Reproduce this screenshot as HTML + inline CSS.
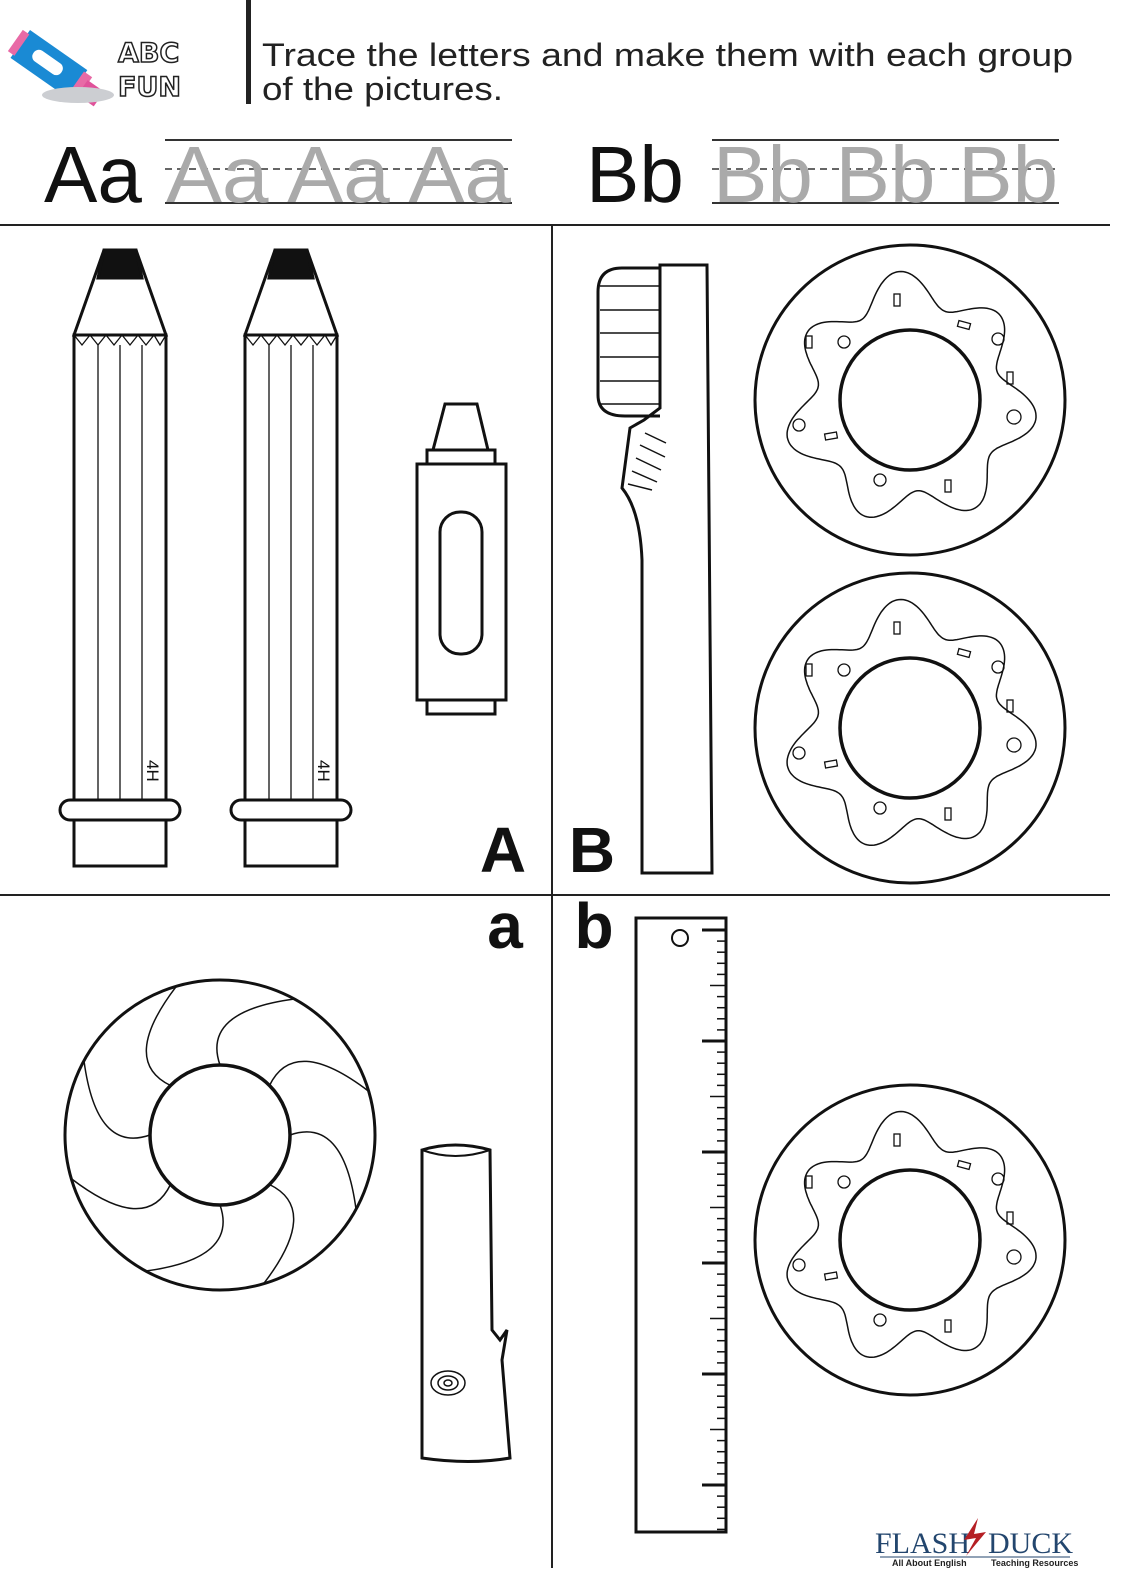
<!DOCTYPE html>
<html><head><meta charset="utf-8"><style>
html,body{margin:0;padding:0;background:#fff}
svg{display:block}
</style></head><body>
<svg id="s" width="1122" height="1584" viewBox="0 0 1122 1584" xmlns="http://www.w3.org/2000/svg" font-family="Liberation Sans, sans-serif">
<defs>
<g id="donut" fill="none" stroke="#111">
  <circle r="155" stroke-width="3"/>
  <circle r="70" stroke-width="3.5"/>
  <path id="frost" stroke-width="1.5" d=""/>
  <g stroke-width="1.3">
    <rect x="-16" y="-106" width="6" height="12"/>
    <rect x="48" y="-78" width="12" height="6" transform="rotate(15 54 -75)"/>
    <circle cx="88" cy="-61" r="6"/>
    <rect x="97" y="-28" width="6" height="12"/>
    <circle cx="104" cy="17" r="7"/>
    <rect x="35" y="80" width="6" height="12"/>
    <circle cx="-30" cy="80" r="6"/>
    <rect x="-85" y="33" width="12" height="6" transform="rotate(-10 -79 36)"/>
    <circle cx="-111" cy="25" r="6"/>
    <rect x="-104" y="-64" width="6" height="12"/>
    <circle cx="-66" cy="-58" r="6"/>
  </g>
</g>
</defs>

<!-- header -->
<g transform="translate(30,30) rotate(35)">
  <rect x="0" y="0" width="70" height="34" fill="#1a8ad4"/>
  <rect x="-6" y="4" width="8" height="26" fill="#e86aa6"/>
  <rect x="68" y="3" width="10" height="28" fill="#e86aa6"/>
  <rect x="76" y="8" width="20" height="18" fill="#e0529a"/>
  <rect x="16" y="10" width="34" height="13" rx="6" fill="#fff"/>
</g>
<ellipse cx="78" cy="95" rx="36" ry="8" fill="#ccced2"/>
<text x="118" y="62" font-size="27" font-weight="bold" fill="#fff" stroke="#222" stroke-width="1.5" font-family="DejaVu Sans, sans-serif">ABC</text>
<text x="118" y="96" font-size="27" font-weight="bold" fill="#fff" stroke="#222" stroke-width="1.5" font-family="DejaVu Sans, sans-serif">FUN</text>
<rect x="246" y="0" width="5" height="104" fill="#222"/>
<text x="262" y="66" font-size="32" fill="#222" textLength="811" lengthAdjust="spacingAndGlyphs">Trace the letters and make them with each group</text>
<text x="262" y="100" font-size="32" fill="#222" textLength="241" lengthAdjust="spacingAndGlyphs">of the pictures.</text>

<!-- trace lines -->
<g stroke="#333" stroke-width="2">
  <line x1="165" y1="140" x2="512" y2="140"/>
  <line x1="165" y1="203" x2="512" y2="203"/>
  <line x1="165" y1="169" x2="512" y2="169" stroke-dasharray="7,5" stroke-width="1.5"/>
  <line x1="712" y1="140" x2="1059" y2="140"/>
  <line x1="712" y1="203" x2="1059" y2="203"/>
  <line x1="712" y1="169" x2="1059" y2="169" stroke-dasharray="7,5" stroke-width="1.5"/>
</g>
<text x="44" y="202" font-size="80" fill="#111">Aa</text>
<text x="166" y="202" font-size="80" fill="#aaa" textLength="345" lengthAdjust="spacingAndGlyphs">Aa Aa Aa</text>
<text x="586" y="202" font-size="80" fill="#111">Bb</text>
<text x="713" y="202" font-size="80" fill="#aaa" textLength="345" lengthAdjust="spacingAndGlyphs">Bb Bb Bb</text>

<!-- grid -->
<g stroke="#222" stroke-width="2">
  <line x1="0" y1="225" x2="1110" y2="225"/>
  <line x1="0" y1="895" x2="1110" y2="895"/>
  <line x1="552" y1="225" x2="552" y2="1568"/>
</g>

<!-- pencils -->
<g id="pencil" fill="none" stroke="#111" stroke-width="3">
  <path d="M74 335 L104 250 L136 250 L166 335 Z" fill="#fff"/>
  <path d="M104 250 L136 250 L142 278 L98 278 Z" fill="#111"/>
  <rect x="74" y="335" width="92" height="465"/>
  <path d="M74 335 L82 345 L90 335 L98 345 L106 335 L114 345 L122 335 L130 345 L138 335 L146 345 L154 335 L160 345 L166 335" stroke-width="1.3"/>
  <g stroke-width="1.3"><line x1="98" y1="345" x2="98" y2="800"/><line x1="120" y1="345" x2="120" y2="800"/><line x1="142" y1="345" x2="142" y2="800"/></g>
  <text x="0" y="0" font-size="17" fill="#111" stroke="none" transform="translate(147,760) rotate(90)">4H</text>
  <rect x="60" y="800" width="120" height="20" rx="10" fill="#fff"/>
  <rect x="74" y="820" width="92" height="46"/>
</g>
<use href="#pencil" x="171"/>

<!-- crayon -->
<g fill="none" stroke="#111" stroke-width="3">
  <path d="M445 404 L477 404 L488 450 L433 450 Z"/>
  <rect x="427" y="450" width="68" height="14"/>
  <rect x="417" y="464" width="89" height="236"/>
  <rect x="440" y="512" width="42" height="142" rx="20"/>
  <rect x="427" y="700" width="68" height="14"/>
</g>

<!-- toothbrush -->
<g fill="none" stroke="#111" stroke-width="3">
  <path d="M660 265 L707 265 L712 873 L642 873 L642 560 Q640 510 622 488 L630 428 L644 420 L660 408 Z"/>
  <path d="M660 268 L622 268 Q598 268 598 292 L598 395 Q598 416 625 416 L660 416"/>
  <g stroke-width="1.5">
    <line x1="600" y1="286" x2="660" y2="286"/><line x1="600" y1="310" x2="660" y2="310"/>
    <line x1="600" y1="333" x2="660" y2="333"/><line x1="600" y1="357" x2="660" y2="357"/>
    <line x1="600" y1="381" x2="660" y2="381"/><line x1="600" y1="404" x2="660" y2="404"/>
    <line x1="645" y1="433" x2="666" y2="443"/><line x1="640" y1="445" x2="665" y2="457"/>
    <line x1="636" y1="458" x2="661" y2="470"/><line x1="632" y1="471" x2="657" y2="482"/>
    <line x1="628" y1="484" x2="652" y2="490"/>
  </g>
</g>

<text x="503" y="872" font-size="64" font-weight="bold" text-anchor="middle" fill="#111">A</text>
<text x="592" y="872" font-size="64" font-weight="bold" text-anchor="middle" fill="#111">B</text>
<text x="505" y="948" font-size="64" font-weight="bold" text-anchor="middle" fill="#111">a</text>
<text x="594" y="948" font-size="64" font-weight="bold" text-anchor="middle" fill="#111">b</text>

<use href="#donut" x="910" y="400"/>
<use href="#donut" x="910" y="728"/>
<use href="#donut" x="910" y="1240"/>

<!-- lifebuoy -->
<g fill="none" stroke="#111" transform="translate(220,1135)">
  <circle r="155" stroke-width="3"/>
  <circle r="70" stroke-width="3.5"/>
  <g id="wv" stroke-width="1.5"></g>
</g>

<!-- log -->
<g fill="none" stroke="#111" stroke-width="3">
  <path d="M422 1150 Q455 1140 490 1150 L492 1330 L500 1340 L507 1330 L502 1360 L510 1458 Q470 1465 422 1458 Z"/>
  <path d="M422 1150 Q455 1162 490 1150" stroke-width="2"/>
  <g stroke-width="1.5"><ellipse cx="448" cy="1383" rx="17" ry="12"/><ellipse cx="448" cy="1383" rx="10" ry="7"/><ellipse cx="448" cy="1383" rx="4" ry="3"/></g>
</g>

<!-- ruler -->
<g fill="none" stroke="#111">
  <rect x="636" y="918" width="90" height="614" stroke-width="3"/>
  <circle cx="680" cy="938" r="8" stroke-width="2"/>
  <g id="ticks" stroke-width="1.5"></g>
</g>

<!-- footer logo -->
<text x="875" y="1553" font-size="30" fill="#23466e" font-family="Liberation Serif, serif">FLASH</text>
<text x="988" y="1553" font-size="30" fill="#23466e" font-family="Liberation Serif, serif">DUCK</text>
<path d="M978 1518 L964 1540 L976 1538 L966 1556 L986 1532 L974 1534 Z" fill="#b51f24"/>
<text x="892" y="1566" font-size="9" font-weight="bold" fill="#222">All About English</text>
<text x="991" y="1566" font-size="9" font-weight="bold" fill="#222">Teaching Resources</text>
<line x1="880" y1="1557" x2="1070" y2="1557" stroke="#23466e" stroke-width="1"/>

<script>
(function(){
  var ns="http://www.w3.org/2000/svg";
  var d="";
  for(var i=0;i<=360;i++){var t=i*Math.PI/180;var r=110+16*Math.sin(7*t+0.6)+3*Math.sin(3*t);
    d+=(i?"L":"M")+(r*Math.cos(t)).toFixed(1)+" "+(r*Math.sin(t)).toFixed(1);}
  document.getElementById("frost").setAttribute("d",d+"Z");
  var g=document.getElementById("wv");
  for(var k=0;k<8;k++){var a=k*Math.PI/4;
    var x1=70*Math.cos(a),y1=70*Math.sin(a),a2=a+0.5,x2=155*Math.cos(a2),y2=155*Math.sin(a2);
    var am=a-0.15,cx=125*Math.cos(am),cy=125*Math.sin(am);
    var p=document.createElementNS(ns,"path");p.setAttribute("d","M"+x1+" "+y1+" Q"+cx+" "+cy+" "+x2+" "+y2);g.appendChild(p);}
  var tg=document.getElementById("ticks");
  for(var y=930,n=0;y<1530;y+=11.1,n++){var L=(n%10==0)?24:(n%5==0)?16:9;
    var l=document.createElementNS(ns,"line");l.setAttribute("x1",726-L);l.setAttribute("x2",726);
    l.setAttribute("y1",y);l.setAttribute("y2",y);if(n%10==0)l.setAttribute("stroke-width","3");tg.appendChild(l);}
})();
</script>
</svg>
</body></html>
